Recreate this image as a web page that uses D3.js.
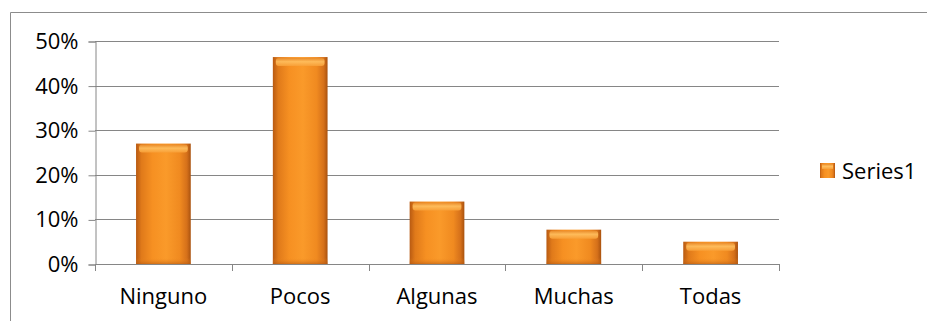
<!DOCTYPE html>
<html>
<head>
<meta charset="utf-8">
<script src="https://cdn.jsdelivr.net/npm/d3@7"></script>
<style>
  html, body { margin: 0; padding: 0; background: #fff; }
  svg { display: block; font-family: "Open Sans", "Noto Sans", sans-serif; }
</style>
</head>
<body>
<svg id="chart" width="927" height="321"></svg>
<script>
// Share of responses per answer category
const categories = ["Ninguno", "Pocos", "Algunas", "Muchas", "Todas"];
const values = [0.27, 0.464, 0.14, 0.077, 0.05];
const yTicks = [0, 0.1, 0.2, 0.3, 0.4, 0.5];
const seriesName = "Series1";

const FONT = 22;
const svg = d3.select("#chart");
const plot = { left: 95, right: 779, top: 41, bottom: 264 };

// Outer chart frame (top and left edges visible)
svg.append("path")
  .attr("d", "M10.5,321 V12.5 H927")
  .attr("fill", "none").attr("stroke", "#8c8c8c").attr("stroke-width", 1);

const x = d3.scaleBand().domain(categories).range([plot.left, plot.right]).paddingInner(0.6).paddingOuter(0.3);
const y = d3.scaleLinear().domain([0, 0.5]).range([plot.bottom, plot.top]);

// Gradients for the bevelled bars
const defs = svg.append("defs");
const side = defs.append("linearGradient").attr("id", "barSide").attr("x1", "0").attr("x2", "1").attr("y1", "0").attr("y2", "0");
[["0%", "#b85a12"], ["10%", "#e07a1a"], ["30%", "#f69022"], ["55%", "#fa9a2a"], ["80%", "#f08a20"], ["93%", "#d5701a"], ["100%", "#a9520f"]]
  .forEach(([o, c]) => side.append("stop").attr("offset", o).attr("stop-color", c));
const topG = defs.append("linearGradient").attr("id", "barTop").attr("x1", "0").attr("x2", "0").attr("y1", "0").attr("y2", "1");
[["0%", "#e88a2a"], ["45%", "#ffc060"], ["100%", "#f8a038"]]
  .forEach(([o, c]) => topG.append("stop").attr("offset", o).attr("stop-color", c));
const bottomG = defs.append("linearGradient").attr("id", "barBottom").attr("x1", "0").attr("x2", "0").attr("y1", "0").attr("y2", "1");
[["0%", "#f08a20", 0], ["100%", "#b85a12", 1]]
  .forEach(([o, c, a]) => bottomG.append("stop").attr("offset", o).attr("stop-color", c).attr("stop-opacity", a));

// Horizontal gridlines
svg.append("g").selectAll("line").data(yTicks).join("line")
  .attr("x1", plot.left).attr("x2", plot.right)
  .attr("y1", d => Math.round(y(d)) + 0.5).attr("y2", d => Math.round(y(d)) + 0.5)
  .attr("stroke", "#868686").attr("stroke-width", 1);

// Y axis
const yAxis = d3.axisLeft(y).tickValues(yTicks).tickFormat(d3.format(".0%")).tickSize(7).tickPadding(10);
const gy = svg.append("g").attr("transform", `translate(${plot.left + 0.5},0.5)`).call(yAxis);
gy.select(".domain").attr("stroke", "#868686");
gy.selectAll(".tick line").attr("stroke", "#868686");
gy.selectAll(".tick text").attr("font-size", FONT).attr("fill", "#000").attr("font-family", "Open Sans, sans-serif");

// X axis with tick marks between categories
const boundaries = d3.range(categories.length + 1).map(i => plot.left + i * (plot.right - plot.left) / categories.length);
const gx = svg.append("g");
gx.append("line").attr("x1", plot.left).attr("x2", plot.right)
  .attr("y1", plot.bottom + 0.5).attr("y2", plot.bottom + 0.5).attr("stroke", "#868686");
gx.selectAll("line.tk").data(boundaries).join("line").attr("class", "tk")
  .attr("x1", d => Math.round(d) + 0.5).attr("x2", d => Math.round(d) + 0.5)
  .attr("y1", plot.bottom).attr("y2", plot.bottom + 7).attr("stroke", "#868686");
gx.selectAll("text").data(categories).join("text")
  .attr("x", d => x(d) + x.bandwidth() / 2).attr("y", 304)
  .attr("text-anchor", "middle").attr("font-size", FONT).attr("fill", "#000")
  .text(d => d);

// Bars
const bars = svg.append("g").selectAll("g").data(categories.map((c, i) => ({ c, v: values[i] }))).join("g");
bars.append("rect")
  .attr("x", d => x(d.c)).attr("y", d => y(d.v))
  .attr("width", x.bandwidth()).attr("height", d => y(0) - y(d.v))
  .attr("fill", "url(#barSide)");
bars.append("rect")
  .attr("x", d => x(d.c) + 3).attr("y", d => y(d.v) + 1)
  .attr("width", x.bandwidth() - 6).attr("height", 8)
  .attr("rx", 3)
  .attr("fill", "url(#barTop)").attr("opacity", 0.9);
bars.append("rect")
  .attr("x", d => x(d.c)).attr("y", d => y(0) - 6)
  .attr("width", x.bandwidth()).attr("height", 6)
  .attr("fill", "url(#barBottom)").attr("opacity", 0.6);

// Legend
const lg = svg.append("g").attr("transform", "translate(820,163)");
lg.append("rect").attr("width", 15).attr("height", 15).attr("fill", "url(#barSide)");
lg.append("rect").attr("x", 2).attr("y", 1).attr("width", 11).attr("height", 5).attr("fill", "url(#barTop)");
lg.append("text").attr("x", 22).attr("y", 16).attr("font-size", FONT).attr("fill", "#000").text(seriesName);
</script>
</body>
</html>
